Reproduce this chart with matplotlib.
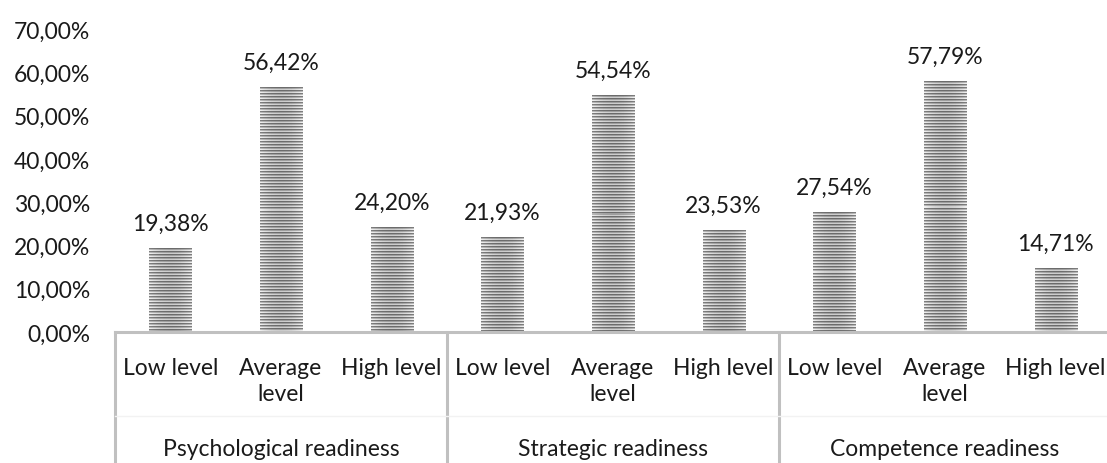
import numpy as np
import matplotlib.pyplot as plt

# data
groups = ["Psychological readiness", "Strategic readiness", "Competence readiness"]
levels = ["Low level", "Average\nlevel", "High level"]
psychological = [19.38, 56.42, 24.20]
strategic = [21.93, 54.54, 23.53]
competence = [27.54, 57.79, 14.71]
values = psychological + strategic + competence
yticks = [0, 10, 20, 30, 40, 50, 60, 70]

plt.rcParams['font.family'] = ['Lato', 'DejaVu Sans']
fs = 16.5
tc = '#1a1a1a'

fig = plt.figure(figsize=(11.07, 4.64), dpi=100)
ax = fig.add_axes([115 / 1107, 1 - 333 / 464, 996 / 1107, 303 / 464])

x = np.arange(len(values))
w = 0.38
px_per_unit = 303 / 70

# striped bars, one image row per pixel
stripe = np.array([0.42, 0.62, 0.80])
for xi, v in zip(x, values):
    n = int(round(v * px_per_unit))
    rows = stripe[np.arange(n) % 3]
    u = np.linspace(-1, 1, 42)
    shade = 1 + 0.18 * u ** 2
    img = np.clip(rows[:, None] * shade[None, :], 0, 1)
    ax.imshow(img, extent=(xi - w / 2, xi + w / 2, 0, v), aspect='auto',
              cmap='gray', vmin=0, vmax=1, interpolation='nearest', zorder=2)
    ax.text(xi, v + 3.4, f"{v:.2f}%".replace('.', ','), ha='center', va='bottom',
            fontsize=fs, color=tc)

ax.set_xlim(-0.5, len(values) - 0.5)
ax.set_ylim(0, 70)

for s in ax.spines.values():
    s.set_visible(False)
ax.set_yticks(yticks)
ax.set_yticklabels([f"{t:.2f}%".replace('.', ',') for t in yticks], fontsize=fs, color=tc)
ax.tick_params(axis='y', length=0, pad=18)
ax.set_xticks([])

# category axis lines
trans = ax.get_xaxis_transform()
lc = '#c0c0c0'
ax.plot([-0.5, len(values) - 0.5], [0, 0], color=lc, lw=2.2, transform=trans, clip_on=False, zorder=3)
for d in [-0.5, 2.5, 5.5, 8.5]:
    ax.plot([d, d], [0, -0.45], color=lc, lw=2.2, transform=trans, clip_on=False)
ax.plot([-0.5, len(values) - 0.5], [-0.277, -0.277], color='#f2f2f2', lw=1, transform=trans, clip_on=False)

for xi in x:
    ax.text(xi, -0.083, levels[xi % 3], transform=trans, ha='center', va='top',
            fontsize=fs, color=tc, linespacing=1.3)
for g, name in enumerate(groups):
    ax.text(3 * g + 1, -0.386, name, transform=trans, ha='center', va='center',
            fontsize=fs, color=tc)

fig.savefig('out.png', dpi=100)
